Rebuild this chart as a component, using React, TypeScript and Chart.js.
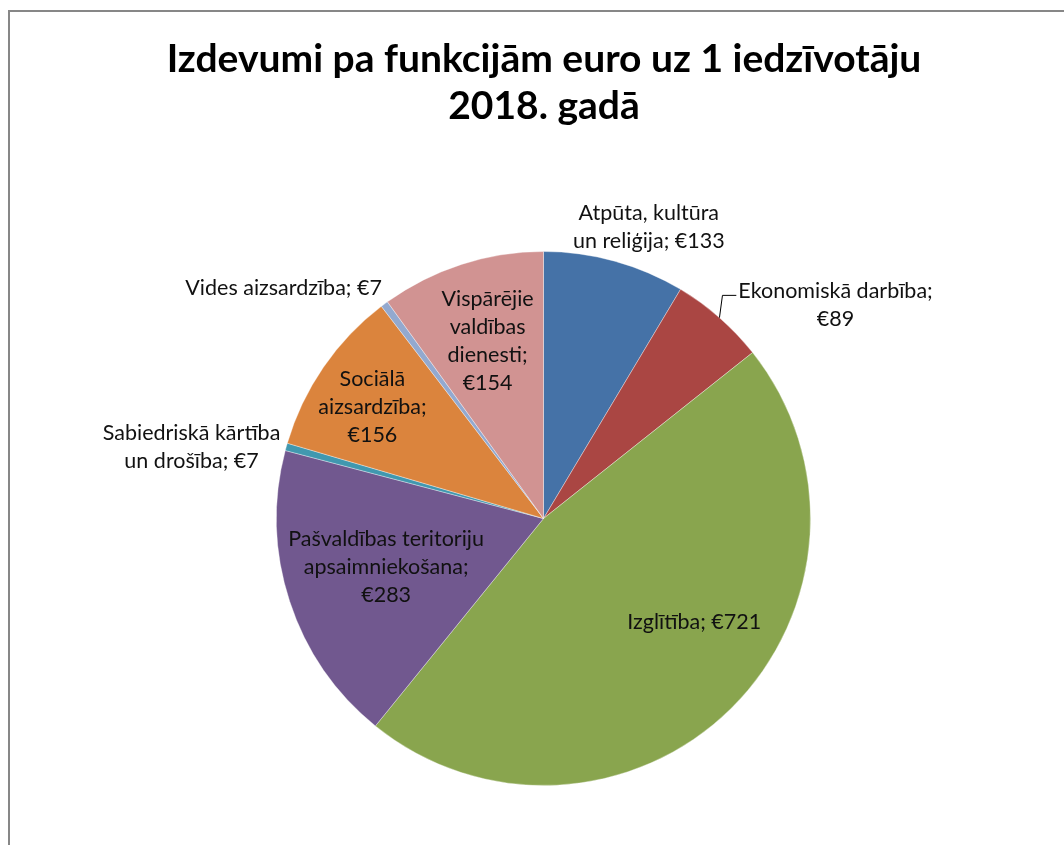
import React, { useEffect, useRef } from "react";
import { Chart, registerables } from "chart.js";

Chart.register(...registerables);

const TITLE_LINES = ["Izdevumi pa funkcijām euro uz 1 iedzīvotāju", "2018. gadā"];

const CATEGORIES = [
  "Atpūta, kultūra un reliģija",
  "Ekonomiskā darbība",
  "Izglītība",
  "Pašvaldības teritoriju apsaimniekošana",
  "Sabiedriskā kārtība un drošība",
  "Sociālā aizsardzība",
  "Vides aizsardzība",
  "Vispārējie valdības dienesti",
];

const VALUES = [133, 89, 721, 283, 7, 156, 7, 154];

const COLORS = [
  "#4572A7",
  "#AA4643",
  "#89A54E",
  "#71588F",
  "#4198AF",
  "#DB843D",
  "#93A9CF",
  "#D19392",
];

// words per line for each data label
const LABEL_WRAP = [[2, 3], [2, 1], [2], [2, 1, 1], [2, 3], [1, 1, 1], [3], [1, 1, 1, 1]];

// label placement relative to each arc: angle shift (deg) and radius factor
const LABEL_PLACE = [
  { d: 4.4, k: 1.162, leader: false },
  { d: 12.65, k: 1.354, leader: true },
  { d: -10.8, k: 0.685, leader: false },
  { d: 0.9, k: 0.617, leader: false },
  { d: -4.1, k: 1.345, leader: false },
  { d: -1.5, k: 0.764, leader: false },
  { d: -11.9, k: 1.3, leader: false },
  { d: 0.4, k: 0.697, leader: false },
];

const LABEL_FONT = "21.5px Lato";
const LINE_H = 28;

function labelLines(i: number): string[] {
  const words = `${CATEGORIES[i]}; €${VALUES[i]}`.split(" ");
  const out: string[] = [];
  let pos = 0;
  for (const n of LABEL_WRAP[i]) {
    out.push(words.slice(pos, pos + n).join(" "));
    pos += n;
  }
  return out;
}

const decorPlugin = {
  id: "decor",
  afterDraw(chart: any) {
    const ctx: CanvasRenderingContext2D = chart.ctx;
    ctx.save();
    // frame
    ctx.strokeStyle = "#878787";
    ctx.lineWidth = 2;
    ctx.strokeRect(9, 11, 1200, 1000);

    // title
    ctx.fillStyle = "#000";
    ctx.font = "bold 39px Lato";
    ctx.textAlign = "center";
    ctx.textBaseline = "alphabetic";
    ctx.fillText(TITLE_LINES[0], 544, 72);
    ctx.fillText(TITLE_LINES[1], 544, 119);

    // labels
    const meta = chart.getDatasetMeta(0);
    ctx.font = LABEL_FONT;
    ctx.textBaseline = "middle";
    meta.data.forEach((arc: any, i: number) => {
      const { x, y, startAngle, endAngle, outerRadius } = arc.getProps(
        ["x", "y", "startAngle", "endAngle", "outerRadius"],
        true
      );
      const mid = (startAngle + endAngle) / 2;
      const p = LABEL_PLACE[i];
      const a = mid + (p.d * Math.PI) / 180;
      const cx = x + Math.cos(a) * outerRadius * p.k;
      const cy = y + Math.sin(a) * outerRadius * p.k;
      const lines = labelLines(i);
      const n = lines.length;
      ctx.fillStyle = "#111";
      lines.forEach((line, j) => {
        ctx.fillText(line, cx, cy + (j - (n - 1) / 2) * LINE_H);
      });
      if (p.leader) {
        const w1 = ctx.measureText(lines[0]).width;
        const y1 = cy - ((n - 1) / 2) * LINE_H + 4;
        const sx = x + Math.cos(mid) * outerRadius;
        const sy = y + Math.sin(mid) * outerRadius;
        ctx.strokeStyle = "#000";
        ctx.lineWidth = 1;
        ctx.beginPath();
        ctx.moveTo(sx, sy);
        ctx.lineTo(sx + 3, y1);
        ctx.lineTo(cx - w1 / 2 - 2, y1);
        ctx.stroke();
      }
    });
    ctx.restore();
  },
};

export default function App() {
  const ref = useRef<HTMLCanvasElement | null>(null);
  useEffect(() => {
    if (!ref.current) return;
    const chart = new Chart(ref.current, {
      type: "pie",
      data: {
        labels: CATEGORIES,
        datasets: [
          {
            data: VALUES,
            backgroundColor: COLORS,
            borderColor: "rgba(255,255,255,0.35)",
            borderWidth: 1,
          },
        ],
      },
      options: {
        responsive: false,
        animation: false,
        layout: { padding: { left: 276, right: 253, top: 251, bottom: 59 } },
        plugins: {
          legend: { display: false },
          title: { display: false },
          tooltip: { enabled: false },
        },
      },
      plugins: [decorPlugin],
    });
    return () => chart.destroy();
  }, []);
  return (
    <div style={{ position: "absolute", left: 0, top: 0, width: 1064, height: 845, background: "#fff" }}>
      <canvas ref={ref} width={1064} height={845} style={{ display: "block" }} />
    </div>
  );
}
